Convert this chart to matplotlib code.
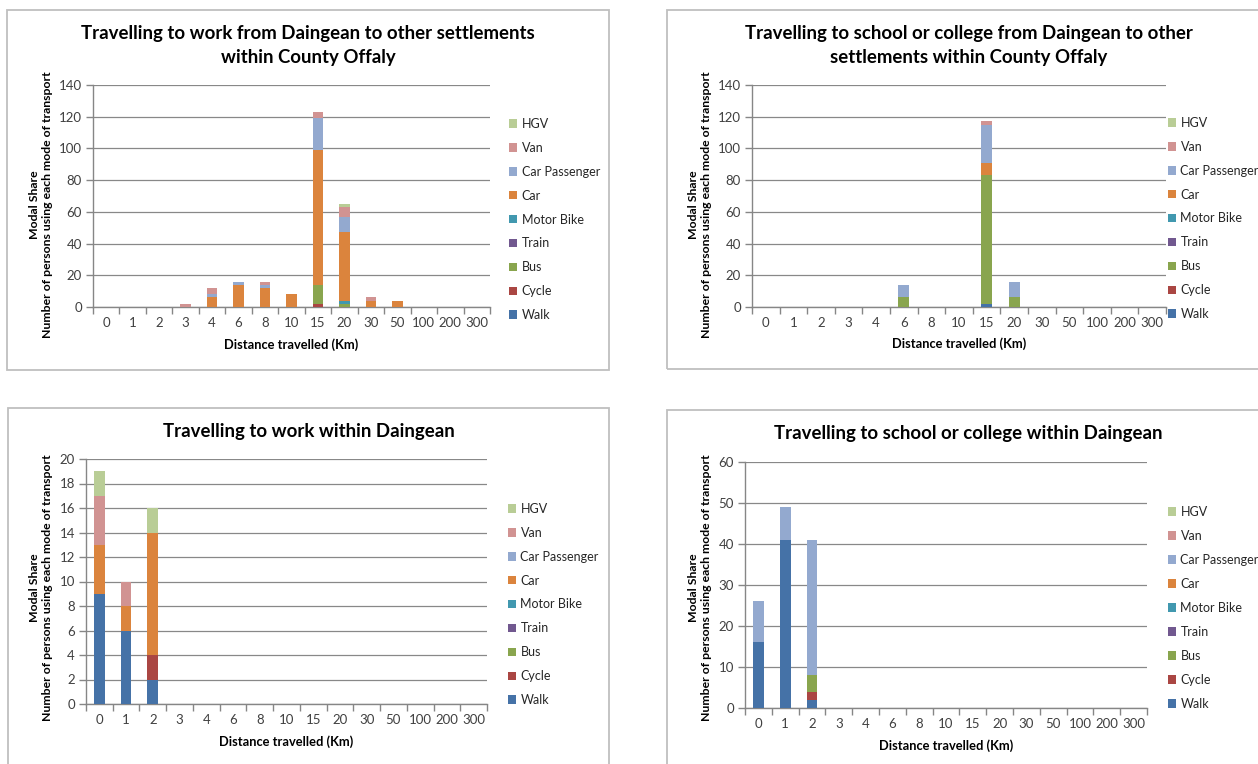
import matplotlib
matplotlib.use("Agg")
import matplotlib.pyplot as plt
from matplotlib.patches import Rectangle, Patch
import numpy as np

plt.rcParams['font.family'] = ['Lato', 'DejaVu Sans']

categories = ['0', '1', '2', '3', '4', '6', '8', '10', '15', '20', '30', '50', '100', '200', '300']
modes = ['Walk', 'Cycle', 'Bus', 'Train', 'Motor Bike', 'Car', 'Car Passenger', 'Van', 'HGV']
mode_colors = ['#4572A7', '#AA4643', '#89A54E', '#71588F', '#4198AF', '#DB843D', '#93A9CF', '#D19392', '#B9CD96']

# Chart 1: work, Daingean -> other settlements
work_ext_walk      = [0, 0, 0, 0, 0, 0, 0, 0, 0, 0, 0, 0, 0, 0, 0]
work_ext_cycle     = [0, 0, 0, 0, 0, 0, 0, 0, 2, 0, 0, 0, 0, 0, 0]
work_ext_bus       = [0, 0, 0, 0, 0, 0, 0, 0, 12, 2, 0, 0, 0, 0, 0]
work_ext_train     = [0, 0, 0, 0, 0, 0, 0, 0, 0, 0, 0, 0, 0, 0, 0]
work_ext_motorbike = [0, 0, 0, 0, 0, 0, 0, 0, 0, 2, 0, 0, 0, 0, 0]
work_ext_car       = [0, 0, 0, 0, 6, 14, 12, 8, 85, 43, 4, 4, 0, 0, 0]
work_ext_carpass   = [0, 0, 0, 0, 2, 2, 2, 0, 20, 10, 0, 0, 0, 0, 0]
work_ext_van       = [0, 0, 0, 2, 4, 0, 2, 0, 4, 6, 2, 0, 0, 0, 0]
work_ext_hgv       = [0, 0, 0, 0, 0, 0, 0, 0, 0, 2, 0, 0, 0, 0, 0]

# Chart 2: school/college, Daingean -> other settlements
school_ext_walk      = [0, 0, 0, 0, 0, 0, 0, 0, 2, 0, 0, 0, 0, 0, 0]
school_ext_cycle     = [0, 0, 0, 0, 0, 0, 0, 0, 0, 0, 0, 0, 0, 0, 0]
school_ext_bus       = [0, 0, 0, 0, 0, 6, 0, 0, 81, 6, 0, 0, 0, 0, 0]
school_ext_train     = [0, 0, 0, 0, 0, 0, 0, 0, 0, 0, 0, 0, 0, 0, 0]
school_ext_motorbike = [0, 0, 0, 0, 0, 0, 0, 0, 0, 0, 0, 0, 0, 0, 0]
school_ext_car       = [0, 0, 0, 0, 0, 0, 0, 0, 8, 0, 0, 0, 0, 0, 0]
school_ext_carpass   = [0, 0, 0, 0, 0, 8, 0, 0, 24, 10, 0, 0, 0, 0, 0]
school_ext_van       = [0, 0, 0, 0, 0, 0, 0, 0, 2, 0, 0, 0, 0, 0, 0]
school_ext_hgv       = [0, 0, 0, 0, 0, 0, 0, 0, 0, 0, 0, 0, 0, 0, 0]

# Chart 3: work within Daingean
work_int_walk      = [9, 6, 2, 0, 0, 0, 0, 0, 0, 0, 0, 0, 0, 0, 0]
work_int_cycle     = [0, 0, 2, 0, 0, 0, 0, 0, 0, 0, 0, 0, 0, 0, 0]
work_int_bus       = [0, 0, 0, 0, 0, 0, 0, 0, 0, 0, 0, 0, 0, 0, 0]
work_int_train     = [0, 0, 0, 0, 0, 0, 0, 0, 0, 0, 0, 0, 0, 0, 0]
work_int_motorbike = [0, 0, 0, 0, 0, 0, 0, 0, 0, 0, 0, 0, 0, 0, 0]
work_int_car       = [4, 2, 10, 0, 0, 0, 0, 0, 0, 0, 0, 0, 0, 0, 0]
work_int_carpass   = [0, 0, 0, 0, 0, 0, 0, 0, 0, 0, 0, 0, 0, 0, 0]
work_int_van       = [4, 2, 0, 0, 0, 0, 0, 0, 0, 0, 0, 0, 0, 0, 0]
work_int_hgv       = [2, 0, 2, 0, 0, 0, 0, 0, 0, 0, 0, 0, 0, 0, 0]

# Chart 4: school/college within Daingean
school_int_walk      = [16, 41, 2, 0, 0, 0, 0, 0, 0, 0, 0, 0, 0, 0, 0]
school_int_cycle     = [0, 0, 2, 0, 0, 0, 0, 0, 0, 0, 0, 0, 0, 0, 0]
school_int_bus       = [0, 0, 4, 0, 0, 0, 0, 0, 0, 0, 0, 0, 0, 0, 0]
school_int_train     = [0, 0, 0, 0, 0, 0, 0, 0, 0, 0, 0, 0, 0, 0, 0]
school_int_motorbike = [0, 0, 0, 0, 0, 0, 0, 0, 0, 0, 0, 0, 0, 0, 0]
school_int_car       = [0, 0, 0, 0, 0, 0, 0, 0, 0, 0, 0, 0, 0, 0, 0]
school_int_carpass   = [10, 8, 33, 0, 0, 0, 0, 0, 0, 0, 0, 0, 0, 0, 0]
school_int_van       = [0, 0, 0, 0, 0, 0, 0, 0, 0, 0, 0, 0, 0, 0, 0]
school_int_hgv       = [0, 0, 0, 0, 0, 0, 0, 0, 0, 0, 0, 0, 0, 0, 0]

titles = [
    'Travelling to work from Daingean to other settlements\nwithin County Offaly',
    'Travelling to school or college from Daingean to other\nsettlements within County Offaly',
    'Travelling to work within Daingean',
    'Travelling to school or college within Daingean',
]

W, H = 1258, 764
fig = plt.figure(figsize=(W / 100, H / 100), dpi=100)

GRID = '#888888'
AXC = '#868686'


def fx(x):
    return x / W


def fy(y):
    return 1 - y / H


def panel(box, plot_px, series, ymax, ystep, title, title_y, ylab_xy, xlab_y, leg_xy, leg_h):
    # border box
    x0, y0, x1, y1 = box
    fig.add_artist(Rectangle((fx(x0), fy(y1)), fx(x1 - x0), (y1 - y0) / H,
                             transform=fig.transFigure, fill=False,
                             edgecolor='#BFBFBF', lw=1.3, zorder=0))
    l, t, r, b = plot_px
    ax = fig.add_axes([fx(l), fy(b), fx(r - l), (b - t) / H])
    x = np.arange(len(categories))
    bottom = np.zeros(len(categories))
    handles = []
    for name, col, vals in zip(modes, mode_colors, series):
        v = np.array(vals, dtype=float)
        ax.bar(x, v, 0.4, bottom=bottom, color=col, edgecolor='none', zorder=3)
        bottom += v
        handles.append(Patch(facecolor=col, edgecolor='none', label=name))
    ax.set_xlim(-0.5, len(categories) - 0.5)
    ax.set_ylim(0, ymax)
    ax.set_yticks(np.arange(0, ymax + 0.1, ystep))
    ax.yaxis.grid(True, color=GRID, lw=0.9, zorder=0)
    ax.set_axisbelow(True)
    for s in ['top', 'right']:
        ax.spines[s].set_visible(False)
    for s in ['left', 'bottom']:
        ax.spines[s].set_color(AXC)
        ax.spines[s].set_linewidth(1.0)
    ax.set_xticks(x)
    ax.set_xticklabels(categories)
    ax.set_xticks(np.arange(-0.5, len(categories), 1.0), minor=True)
    ax.tick_params(axis='x', which='major', length=0, pad=7, labelsize=9.5, labelcolor='#404040')
    ax.tick_params(axis='x', which='minor', length=5, color=AXC, width=1.0)
    ax.tick_params(axis='y', which='major', length=5, color=AXC, width=1.0, labelsize=9.5,
                   labelcolor='#404040', pad=3)
    cx = (x0 + x1) / 2
    fig.text(fx(cx), fy(title_y), title, ha='center', va='center', fontsize=13.4,
             fontweight='bold', color='#000000', linespacing=1.5)
    fig.text(fx(ylab_xy[0]), fy(ylab_xy[1]), 'Modal Share\nNumber of persons using each mode of transport',
             rotation=90, ha='center', va='center', fontsize=8.8, fontweight='bold', linespacing=1.3)
    fig.text(fx((l + r) / 2), fy(xlab_y), 'Distance travelled (Km)', ha='center', va='center',
             fontsize=9.3, fontweight='bold')
    leg = ax.legend(handles[::-1], [h.get_label() for h in handles[::-1]],
                    loc='upper left', bbox_to_anchor=(fx(leg_xy[0]), fy(leg_xy[1])),
                    bbox_transform=fig.transFigure, frameon=False, fontsize=9,
                    handlelength=0.65, handleheight=0.65, handletextpad=0.35,
                    labelspacing=leg_h, borderpad=0, borderaxespad=0)
    for txt in leg.get_texts():
        txt.set_color('#262626')
    return ax


panel((7, 10, 609, 370), (93, 85, 490, 307),
      [work_ext_walk, work_ext_cycle, work_ext_bus, work_ext_train, work_ext_motorbike,
       work_ext_car, work_ext_carpass, work_ext_van, work_ext_hgv],
      140, 20, titles[0], 45, (41, 205), 345, (509, 118), 0.95)

panel((667, 10, 1270, 369), (752, 85, 1166, 307),
      [school_ext_walk, school_ext_cycle, school_ext_bus, school_ext_train, school_ext_motorbike,
       school_ext_car, school_ext_carpass, school_ext_van, school_ext_hgv],
      140, 20, titles[1], 45, (700, 205), 344, (1168, 117), 0.95)

panel((8, 408, 609, 780), (86, 459, 487, 704),
      [work_int_walk, work_int_cycle, work_int_bus, work_int_train, work_int_motorbike,
       work_int_car, work_int_carpass, work_int_van, work_int_hgv],
      20, 2, titles[2], 431, (41, 588), 742, (508, 503), 0.95)

panel((667, 410, 1270, 780), (745, 462, 1147, 708),
      [school_int_walk, school_int_cycle, school_int_bus, school_int_train, school_int_motorbike,
       school_int_car, school_int_carpass, school_int_van, school_int_hgv],
      60, 10, titles[3], 434, (700, 588), 746, (1168, 506), 0.96)

fig.savefig('out.png', dpi=100, facecolor='white')
